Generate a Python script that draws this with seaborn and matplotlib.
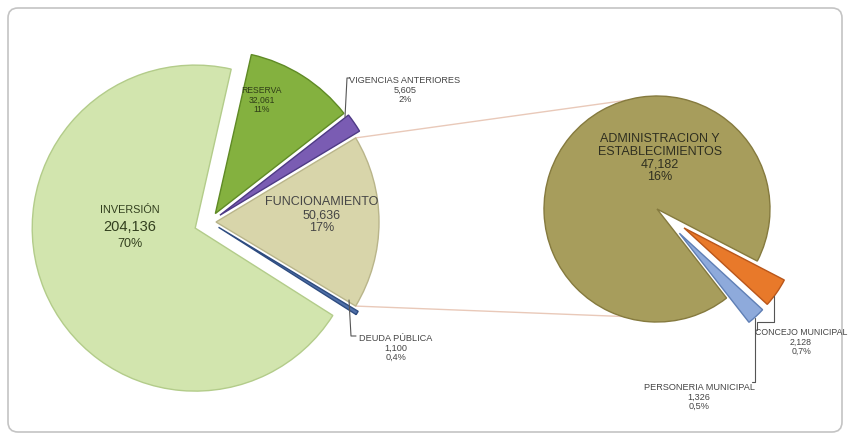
import numpy as np
import matplotlib
matplotlib.use("Agg")
import matplotlib.pyplot as plt
import seaborn as sns
from matplotlib.patches import FancyBboxPatch

sns.set_theme(style="white")
plt.rcParams['font.family'] = ['Liberation Sans Narrow', 'Liberation Sans', 'DejaVu Sans']

# ---------------- data ----------------
main_labels = ["FUNCIONAMIENTO", "VIGENCIAS ANTERIORES", "RESERVA", "INVERSIÓN", "DEUDA PÚBLICA"]
main_values = [50636, 5605, 32061, 204136, 1100]
main_pcts = ["17%", "2%", "11%", "70%", "0,4%"]

sub_labels = ["PERSONERIA MUNICIPAL", "CONCEJO MUNICIPAL", "ADMINISTRACION Y\nESTABLECIMIENTOS"]
sub_values = [1326, 2128, 47182]
sub_pcts = ["0,5%", "0,7%", "16%"]

# ---------------- styling ----------------
main_colors = ["#d8d5aa", "#7a5cb3", "#84b13f", "#d2e5ae", "#4f6fa8"]
main_edges = ["#b9b58a", "#4e3a85", "#5f8a25", "#b3cc8a", "#2e4c80"]
main_explode = [6, 12, 10, 16, 10]      # offsets in pixels
sub_colors = ["#8eaadb", "#e8792a", "#a79d5c"]
sub_edges = ["#5f7fb5", "#b9561a", "#857a3e"]
sub_explode = [33, 33, 0]

W, H = 848, 438


def P(x, y):
    """pixel position (origin top-left) -> data coords"""
    return (x, H - y)


fig = plt.figure(figsize=(W / 100, H / 100), dpi=100)
fig.patch.set_facecolor("white")
ax = fig.add_axes([0, 0, 1, 1])

# main pie
R1 = 163
C1 = P(210, 222)
start1 = -0.5 * main_values[0] / sum(main_values) * 360
w1, _ = ax.pie(main_values, colors=main_colors, startangle=start1, counterclock=True,
               radius=R1, center=C1, explode=main_explode,
               wedgeprops=dict(linewidth=1.0))
for w, ec in zip(w1, main_edges):
    w.set_edgecolor(ec)

# secondary pie (breakdown of FUNCIONAMIENTO)
R2 = 113
C2 = P(657, 209)
w2, _ = ax.pie(sub_values, colors=sub_colors, startangle=-52, counterclock=True,
               radius=R2, center=C2, explode=sub_explode,
               wedgeprops=dict(linewidth=1.0))
for w, ec in zip(w2, sub_edges):
    w.set_edgecolor(ec)

# connector lines from FUNCIONAMIENTO wedge to the second pie
wf = w1[0]
fcx, fcy = wf.center
for a_main, a_sub in [(wf.theta2, 106), (wf.theta1, 252)]:
    x0 = fcx + R1 * np.cos(np.radians(a_main))
    y0 = fcy + R1 * np.sin(np.radians(a_main))
    x1 = C2[0] + R2 * np.cos(np.radians(a_sub))
    y1 = C2[1] + R2 * np.sin(np.radians(a_sub))
    ax.plot([x0, x1], [y0, y1], color="#e9c9b9", lw=1.0, zorder=0)

txt = "#454545"
small = 6.6


def fmt(v):
    return f"{v:,}"


# big labels
ax.text(*P(130, 210), main_labels[3], ha="center", va="center", fontsize=7.8, color="#33401f")
ax.text(*P(130, 227), fmt(main_values[3]), ha="center", va="center", fontsize=10.5, color="#33401f")
ax.text(*P(130, 244), main_pcts[3], ha="center", va="center", fontsize=9, color="#33401f")

ax.text(*P(322, 215), f"{main_labels[0]}\n{fmt(main_values[0])}\n{main_pcts[0]}",
        ha="center", va="center", fontsize=9, color=txt, linespacing=1.1)
ax.text(*P(262, 100), f"{main_labels[2]}\n{fmt(main_values[2])}\n{main_pcts[2]}",
        ha="center", va="center", fontsize=6.2, color="#2f3d18", linespacing=1.05)
ax.text(*P(660, 158), f"{sub_labels[2]}\n{fmt(sub_values[2])}\n{sub_pcts[2]}",
        ha="center", va="center", fontsize=9, color="#2f2f20", linespacing=1.05)

# small labels with leader lines
ax.text(*P(405, 90), f"{main_labels[1]}\n{fmt(main_values[1])}\n{main_pcts[1]}",
        ha="center", va="center", fontsize=small, color=txt, linespacing=1.1)
ax.plot(*zip(P(345, 117), P(347, 78), P(350, 78)), color="#555555", lw=0.8)

ax.text(*P(396, 348), f"{main_labels[4]}\n{fmt(main_values[4])}\n{main_pcts[4]}",
        ha="center", va="center", fontsize=small, color=txt, linespacing=1.1)
ax.plot(*zip(P(349, 300), P(351, 336), P(356, 336)), color="#555555", lw=0.8)

ax.text(*P(801, 342), f"{sub_labels[1]}\n{fmt(sub_values[1])}\n{sub_pcts[1]}",
        ha="center", va="center", fontsize=6.3, color=txt, linespacing=1.1)
ax.plot(*zip(P(774, 296), P(774, 322), P(757, 322), P(757, 330)), color="#555555", lw=0.8)

ax.text(*P(699, 397), f"{sub_labels[0]}\n{fmt(sub_values[0])}\n{sub_pcts[0]}",
        ha="center", va="center", fontsize=small, color=txt, linespacing=1.1)
ax.plot(*zip(P(755, 318), P(755, 382), P(752, 382)), color="#555555", lw=0.8)

# chart border
border = FancyBboxPatch(P(8, 432), 834, 424, boxstyle="round,pad=0,rounding_size=10",
                        fill=False, edgecolor="#c4c4c4", lw=1.2, zorder=-1)
ax.add_patch(border)

ax.set_xlim(0, W)
ax.set_ylim(0, H)
ax.set_aspect("equal")
ax.axis("off")

fig.savefig("out.png", dpi=100, facecolor="white")
